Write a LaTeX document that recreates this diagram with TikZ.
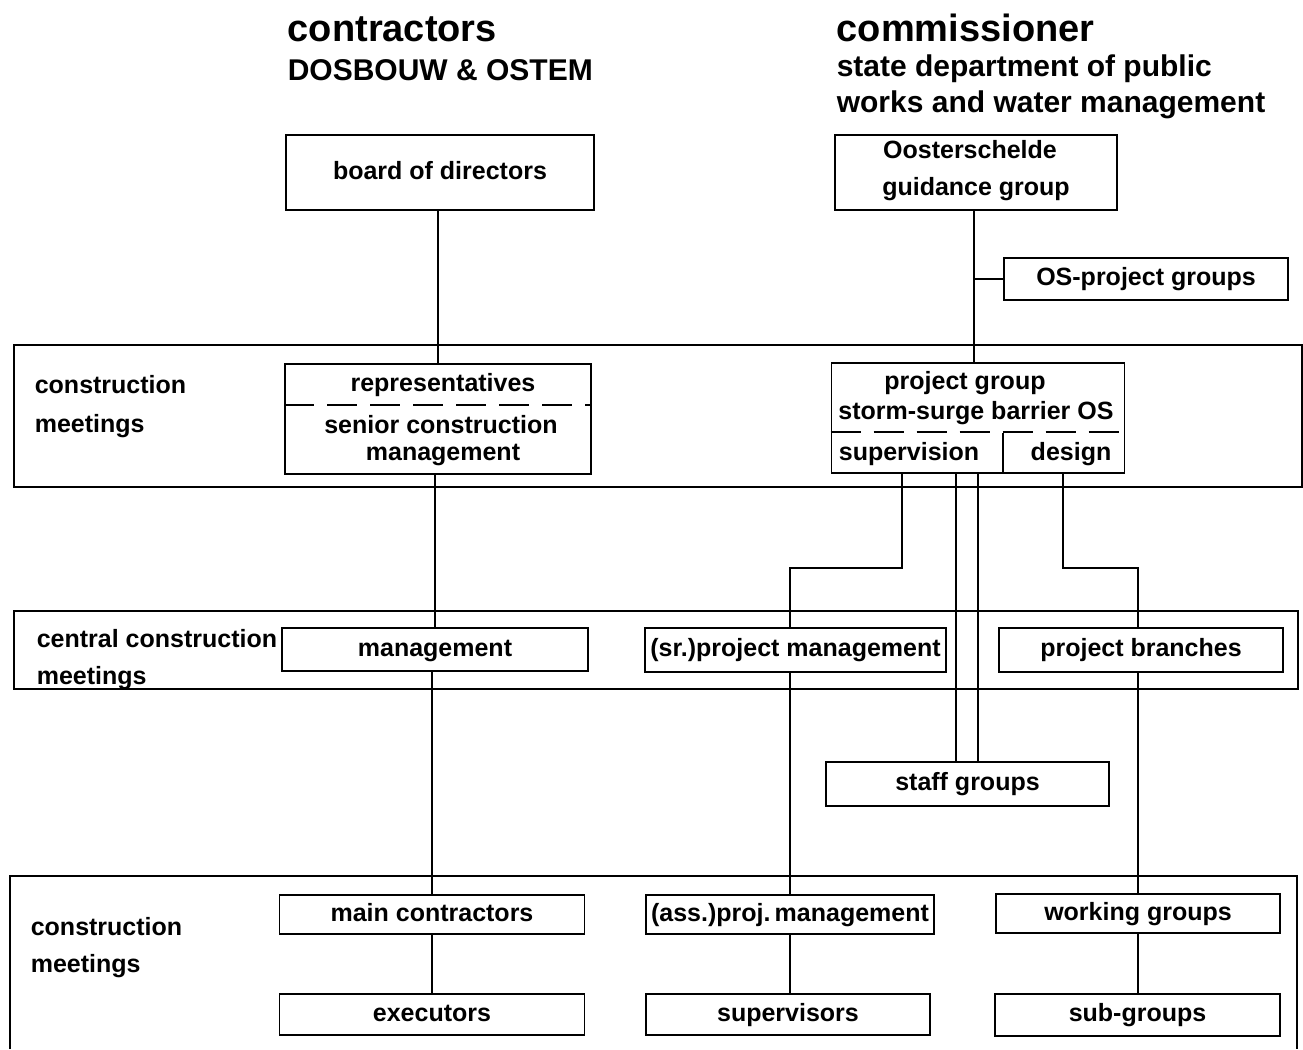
\documentclass[tikz,border=0pt]{standalone}
\usepackage{fontspec}
\setmainfont{Liberation Sans}
\begin{document}
\begin{tikzpicture}[x=1pt,y=-1pt,line width=1.6pt,
  every node/.style={inner sep=0pt},
  txt/.style={font=\bfseries\fontsize{25}{27}\selectfont,text height=18pt,text depth=5pt},
  box/.style={draw,txt},
  band/.style={draw},
  lbl/.style={font=\bfseries\fontsize{25}{27}\selectfont,anchor=base west},
  ttl/.style={font=\bfseries\fontsize{38}{40}\selectfont,anchor=base west},
  sub/.style={font=\bfseries\fontsize{30}{32}\selectfont,anchor=base west},
  sep/.style={dash pattern=on 30pt off 13pt}]
\useasboundingbox (0,0) rectangle (1303,1049);

% titles
\node[ttl] (t1) at (287,42) {contractors};
\node[sub] (t2) at (287,80) {DOSBOUW \& OSTEM};
\node[ttl] (t3) at (836,42) {commissioner};
\node[sub] (t4) at (836,77) {state department of public};
\node[sub] (t5) at (836,112) {works and water management};

% bands
\draw[band] (14,345) rectangle (1302,487);
\draw[band] (14,611) rectangle (1298,689);
\draw[band] (10,1049) -- (10,876) -- (1297,876) -- (1297,1049);
\node[lbl] (b1a) at (34,393) {construction};
\node[lbl] (b1b) at (34,432) {meetings};
\node[lbl] (b2a) at (36,647) {central construction};
\node[lbl] (b2b) at (36,684) {meetings};
\node[lbl] (b3a) at (30,935) {construction};
\node[lbl] (b3b) at (30,972) {meetings};

% top boxes
\node[box,minimum width=308pt,minimum height=75pt] (board) at (440,172.5) {board of directors};
\node[draw,minimum width=282pt,minimum height=75pt] (oost) at (976,172.5) {};
\node[txt] (oost1) at (970,152) {Oosterschelde};
\node[txt] (oost2) at (976,189) {guidance group};
\node[box,minimum width=284pt,minimum height=42pt] (osproj) at (1146,279) {OS-project groups};

% representatives box
\node[draw,minimum width=306pt,minimum height=110pt] (rep) at (438,419) {};
\node[txt] (rep1) at (443,385) {representatives};
\node[txt] (rep2) at (441,427) {senior construction};
\node[txt] (rep3) at (443,454) {management};
\coordinate (rd) at (0,405);
\draw[sep] (rep.west |- rd) -- (rep.east |- rd);

% project group box
\node[draw,minimum width=293pt,minimum height=110pt] (pg) at (978,418) {};
\node[txt] (pg1) at (965,383) {project group};
\node[txt] (pg2) at (976,413) {storm-surge barrier OS};
\node[txt] (pg3) at (909,454) {supervision};
\node[txt] (pg4) at (1071,454) {design};
\coordinate (pd) at (0,432);
\draw[sep] (pg.west |- pd) -- (pg.east |- pd);
\draw ([xshift=25pt]pg.south) -- ++(0,-41);

% middle boxes
\node[box,minimum width=306pt,minimum height=43pt] (mgmt) at (435,649.5) {management};
\node[box,minimum width=301pt,minimum height=44pt] (srpm) at (795.5,650) {(sr.)project management};
\node[box,minimum width=284pt,minimum height=44pt] (pb) at (1141,650) {project branches};
\node[box,minimum width=283pt,minimum height=44pt] (staff) at (967.5,784) {staff groups};

% bottom boxes
\node[box,minimum width=305pt,minimum height=39pt] (mainc) at (432,914.5) {main contractors};
\node[box,minimum width=288pt,minimum height=39pt] (asspm) at (790,914.5) {(ass.)proj.\,management};
\node[box,minimum width=284pt,minimum height=39pt] (wg) at (1138,913.5) {working groups};
\node[box,minimum width=305pt,minimum height=41pt] (exec) at (432,1014.5) {executors};
\node[box,minimum width=284pt,minimum height=41pt] (sup) at (788,1014.5) {supervisors};
\node[box,minimum width=285pt,minimum height=42pt] (subg) at (1137.5,1015) {sub-groups};

% connectors left column
\draw (rep.north |- board.south) -- (rep.north);
\draw (mgmt.north |- rep.south) -- (mgmt.north);
\draw (mainc.north |- mgmt.south) -- (mainc.north);
\draw (mainc.south) -- (exec.north);

% connectors right side
\coordinate (ol) at ([xshift=-2pt]oost.south);
\draw (ol) -- (ol |- pg.north);
\draw (osproj.west) -- (osproj.west -| ol);

\coordinate (ta) at ([xshift=-76pt]pg.south);
\coordinate (tb) at ([xshift=-22pt]pg.south);
\coordinate (tc) at (pg.south);
\coordinate (td) at ([xshift=85pt]pg.south);
\draw (ta) -- ++(0,94) -| (asspm.north |- srpm.north);
\draw (asspm.north |- srpm.south) -- (asspm.north);
\draw (asspm.south) -- (asspm.south |- sup.north);
\draw (tb) -- (tb |- staff.north);
\draw (tc) -- (tc |- staff.north);
\draw (td) -- ++(0,94) -| (wg.north |- pb.north);
\draw (wg.north |- pb.south) -- (wg.north);
\draw (wg.south) -- (wg.south |- subg.north);
\end{tikzpicture}
\end{document}
